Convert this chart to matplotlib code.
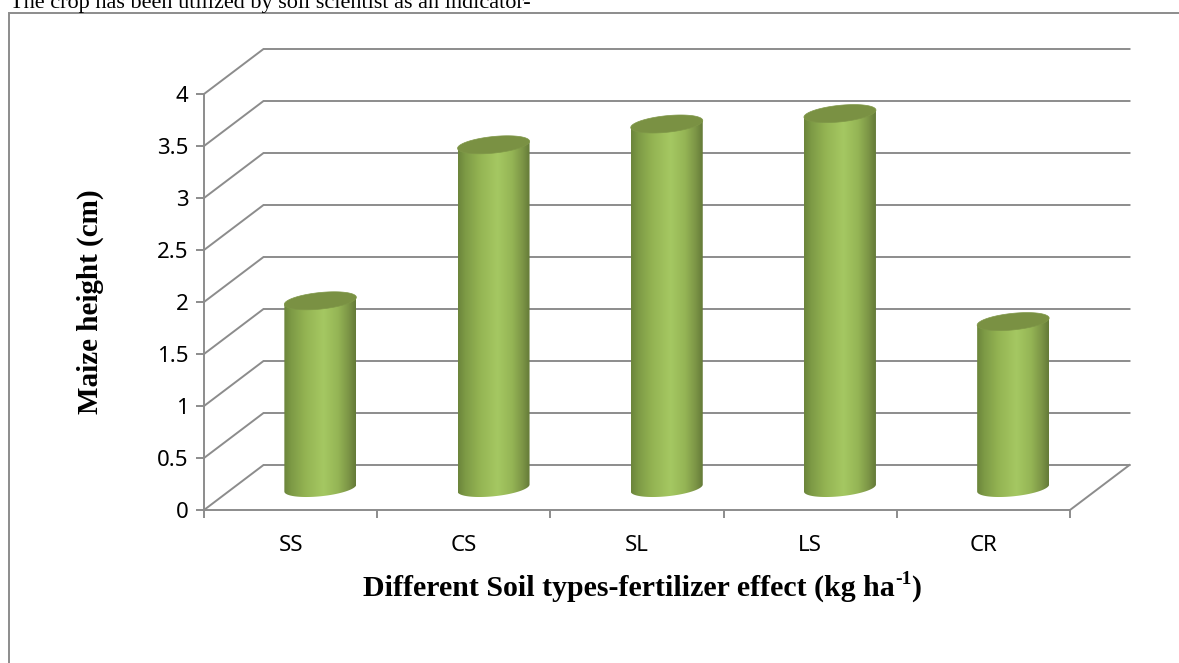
import numpy as np
import matplotlib
matplotlib.use('Agg')
import matplotlib.pyplot as plt
from matplotlib.colors import LinearSegmentedColormap
from matplotlib.lines import Line2D
from matplotlib.patches import PathPatch, Polygon
from matplotlib.path import Path

categories = ['SS', 'CS', 'SL', 'LS', 'CR']
heights = [1.8, 3.3, 3.5, 3.6, 1.6]
y_ticks = [0, 0.5, 1, 1.5, 2, 2.5, 3, 3.5, 4]
y_tick_labels = ['0', '0.5', '1', '1.5', '2', '2.5', '3', '3.5', '4']

W, H = 1179, 663
fig = plt.figure(figsize=(W / 100, H / 100), dpi=100)
plt.rcParams['font.family'] = 'Noto Sans'
GRID = '#8c8c8c'

# front plane of the fake 3d box, pixel position in the picture
left, right, bottom, top = 204, 1070, 510, 94
ax = fig.add_axes([left / W, 1 - bottom / H, (right - left) / W, (bottom - top) / H])
ax.set_xlim(0, 5)
ax.set_ylim(0, 4)
ax.patch.set_visible(False)
for s in ['top', 'right']:
    ax.spines[s].set_visible(False)
for s in ['left', 'bottom']:
    ax.spines[s].set_color(GRID)
    ax.spines[s].set_linewidth(1.4)

px = 5 / (right - left)
py = 4 / (bottom - top)
depth_x = 59.5 * px
depth_y = 45 * py

# walls
for v in y_ticks:
    ax.plot([0, depth_x, 5 + depth_x], [v, v + depth_y, v + depth_y], color=GRID, lw=1.4,
            clip_on=False, zorder=1, solid_joinstyle='miter')
ax.plot([5, 5 + depth_x], [0, depth_y], color=GRID, lw=1.4, clip_on=False, zorder=1)

ax.set_xticks(range(6))
ax.set_xticklabels([])
ax.set_xticks([i + 0.5 for i in range(5)], categories, minor=True)
ax.tick_params(axis='x', which='major', length=6, width=1.4, color=GRID)
ax.tick_params(axis='x', which='minor', length=0, labelsize=16, pad=18)
ax.set_yticks(y_ticks, y_tick_labels)
ax.tick_params(axis='y', length=6, width=1.4, color=GRID, labelsize=16, pad=5)

# cylinders
shade = LinearSegmentedColormap.from_list('shade', [
    (0.0, '#6b843b'), (0.1, '#7d9a45'), (0.3, '#94b453'), (0.55, '#a5c862'),
    (0.75, '#95b555'), (0.9, '#7c9546'), (1.0, '#647a38')])
grad = np.linspace(0, 1, 256).reshape(1, -1)
a = 36 * px
b = 8.3 * py
shear = 3.5 * py
lift = 22 * py
t = np.linspace(0, 2 * np.pi, 121)
t_low = np.linspace(np.pi, 2 * np.pi, 61)

for i, h in enumerate(heights):
    cx = i + 0.5 + depth_x / 2
    y0 = lift
    y1 = lift + h
    # body = lower half of the bottom ellipse + upper part up to the top ellipse
    low_x = cx + a * np.cos(t_low)
    low_y = y0 + b * np.sin(t_low) + shear * np.cos(t_low)
    xs = np.r_[low_x, cx + a, cx - a]
    ys = np.r_[low_y, y1 + shear, y1 - shear]
    body = Polygon(np.c_[xs, ys], closed=True, transform=ax.transData, fc='none', ec='none')
    ax.add_patch(body)
    im = ax.imshow(grad, cmap=shade, extent=[cx - a, cx + a, y0 - 0.2, y1 + 0.2], aspect='auto',
                   zorder=3, clip_on=True, interpolation='bilinear')
    im.set_clip_path(body)
    cap = Path(np.c_[cx + a * np.cos(t), y1 + b * np.sin(t) + shear * np.cos(t)])
    ax.add_patch(PathPatch(cap, fc='#7a9143', ec='#7f9748', lw=0.5, zorder=4, clip_on=False))
ax.set_xlim(0, 5)
ax.set_ylim(0, 4)

# frame of the pasted chart, only left and top edges are in the picture
fig.add_artist(Line2D([9.5 / W, 9.5 / W, 1], [0, 1 - 13 / H, 1 - 13 / H], color=GRID, lw=1.4,
                      transform=fig.transFigure, solid_joinstyle='miter'))

fig.text(10 / W, 1 - 8 / H, 'The crop has been utilized by soil scientist as an indicator-', family='Liberation Serif',
         fontsize=16, color='black', ha='left', va='baseline')

fig.text(90 / W, 1 - 302 / H, 'Maize height (cm)', family='Liberation Serif', fontweight='bold', fontsize=21,
         rotation=90, ha='center', va='center')

lab = fig.text(363 / W, 1 - 596 / H, 'Different Soil types-fertilizer effect (kg ha', family='Liberation Serif',
               fontweight='bold', fontsize=21.5, ha='left', va='baseline')
sup = plt.annotate('-1', xy=(1, 0), xycoords=lab, xytext=(0, 10), textcoords='offset points', family='Liberation Serif',
                   fontweight='bold', fontsize=14, ha='left', va='bottom', annotation_clip=False)
plt.annotate(')', xy=(1, 0), xycoords=sup, xytext=(0, -10), textcoords='offset points', family='Liberation Serif',
             fontweight='bold', fontsize=21.5, ha='left', va='bottom', annotation_clip=False)

fig.savefig('out.png', dpi=100)
